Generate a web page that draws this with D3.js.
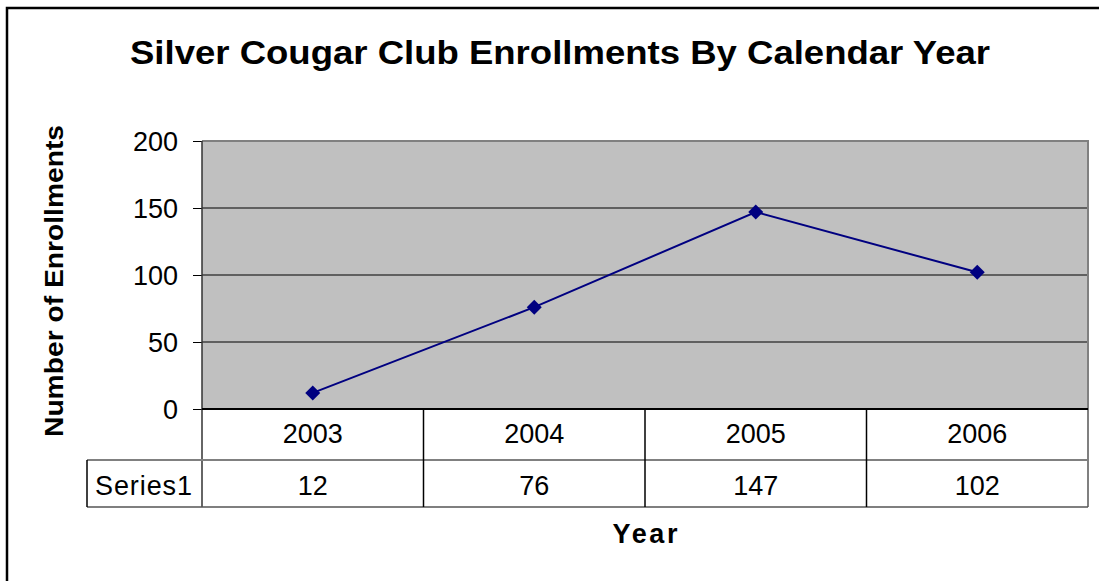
<!DOCTYPE html>
<html>
<head>
<meta charset="utf-8">
<script src="https://cdn.jsdelivr.net/npm/d3@7"></script>
<style>
  body { margin: 0; background: #fff; }
  svg text { font-family: "Liberation Sans", Arial, sans-serif; fill: #000; }
</style>
</head>
<body>
<div id="chart"></div>
<script>
const years = ['2003', '2004', '2005', '2006'];
const enrollments = [12, 76, 147, 102];
const seriesName = 'Series1';
const yTicks = [0, 50, 100, 150, 200];

const width = 1099;
const height = 581;

const plotLeft = 202;
const plotRight = 1088;
const plotTop = 141;
const plotBottom = 409;
const tableLeft = 87;
const rowMid = 460;
const tableBottom = 507;

const svg = d3.select('#chart')
	.append('svg')
	.attr('width', width)
	.attr('height', height);

// outer chart border (runs off the right and bottom of the picture)
svg.append('rect')
	.attr('x', 7)
	.attr('y', 8)
	.attr('width', width + 20)
	.attr('height', height + 20)
	.attr('fill', '#fff')
	.attr('stroke', '#000')
	.attr('stroke-width', 2.5);

svg.append('text')
	.attr('x', 560)
	.attr('y', 64)
	.attr('text-anchor', 'middle')
	.attr('textLength', 860)
	.attr('lengthAdjust', 'spacingAndGlyphs')
	.style('font-size', '32.5px')
	.style('font-weight', 'bold')
	.text('Silver Cougar Club Enrollments By Calendar Year');

const x = d3.scaleBand()
	.domain(years)
	.range([plotLeft, plotRight]);

const y = d3.scaleLinear()
	.domain([0, 200])
	.range([plotBottom, plotTop]);

svg.append('rect')
	.attr('x', plotLeft)
	.attr('y', plotTop)
	.attr('width', plotRight - plotLeft)
	.attr('height', plotBottom - plotTop)
	.attr('fill', '#c0c0c0');

// gridlines
svg.selectAll('.grid')
	.data(yTicks.filter((d) => d > 0 && d < 200))
	.join('line')
	.attr('class', 'grid')
	.attr('x1', plotLeft)
	.attr('x2', plotRight)
	.attr('y1', (d) => y(d))
	.attr('y2', (d) => y(d))
	.attr('stroke', '#000')
	.attr('stroke-width', 1);

// plot border top/right
svg.append('line')
	.attr('x1', plotLeft).attr('x2', plotRight)
	.attr('y1', plotTop).attr('y2', plotTop)
	.attr('stroke', '#808080').attr('stroke-width', 2);
svg.append('line')
	.attr('x1', plotRight).attr('x2', plotRight)
	.attr('y1', plotTop - 1).attr('y2', tableBottom)
	.attr('stroke', '#808080').attr('stroke-width', 2);

// y axis
const yAxis = svg.append('g')
	.attr('transform', `translate(${plotLeft},0)`)
	.call(d3.axisLeft(y).tickValues(yTicks).tickSize(9).tickPadding(15));
yAxis.select('.domain').remove();
yAxis.selectAll('.tick line').attr('stroke', '#000');
yAxis.selectAll('.tick text')
	.attr('fill', '#000')
	.attr('dy', '0.36em')
	.style('font-size', '27px')
	.style('font-family', '"Liberation Sans", Arial, sans-serif');

svg.append('line')
	.attr('x1', plotLeft).attr('x2', plotLeft)
	.attr('y1', plotTop).attr('y2', tableBottom)
	.attr('stroke', '#333').attr('stroke-width', 1.5);

// data table
svg.append('line')
	.attr('x1', plotLeft).attr('x2', plotRight)
	.attr('y1', plotBottom).attr('y2', plotBottom)
	.attr('stroke', '#000').attr('stroke-width', 2);
svg.append('line')
	.attr('x1', tableLeft).attr('x2', plotRight)
	.attr('y1', rowMid).attr('y2', rowMid)
	.attr('stroke', '#808080').attr('stroke-width', 2);
svg.append('line')
	.attr('x1', tableLeft).attr('x2', plotRight)
	.attr('y1', tableBottom).attr('y2', tableBottom)
	.attr('stroke', '#555').attr('stroke-width', 1.5);
svg.append('line')
	.attr('x1', tableLeft).attr('x2', tableLeft)
	.attr('y1', rowMid).attr('y2', tableBottom)
	.attr('stroke', '#000').attr('stroke-width', 1.5);

svg.selectAll('.col-div')
	.data(years.slice(1))
	.join('line')
	.attr('class', 'col-div')
	.attr('x1', (d) => x(d))
	.attr('x2', (d) => x(d))
	.attr('y1', plotBottom)
	.attr('y2', tableBottom)
	.attr('stroke', '#000')
	.attr('stroke-width', 1.5);

svg.selectAll('.cat-label')
	.data(years)
	.join('text')
	.attr('class', 'cat-label')
	.attr('x', (d) => x(d) + x.bandwidth() / 2)
	.attr('y', 443)
	.attr('text-anchor', 'middle')
	.style('font-size', '27px')
	.text((d) => d);

svg.selectAll('.val-label')
	.data(enrollments)
	.join('text')
	.attr('class', 'val-label')
	.attr('x', (d, i) => x(years[i]) + x.bandwidth() / 2)
	.attr('y', 495)
	.attr('text-anchor', 'middle')
	.style('font-size', '27px')
	.text((d) => d);

svg.append('text')
	.attr('x', 95)
	.attr('y', 495)
	.attr('textLength', 97)
	.attr('lengthAdjust', 'spacing')
	.style('font-size', '27px')
	.text(seriesName);

// series line + diamond markers
const line = d3.line()
	.x((d, i) => x(years[i]) + x.bandwidth() / 2)
	.y((d) => y(d));

svg.append('path')
	.datum(enrollments)
	.attr('d', line)
	.attr('fill', 'none')
	.attr('stroke', '#000080')
	.attr('stroke-width', 2);

svg.selectAll('.marker')
	.data(enrollments)
	.join('path')
	.attr('class', 'marker')
	.attr('d', d3.symbol(d3.symbolSquare, 112))
	.attr('transform', (d, i) => `translate(${x(years[i]) + x.bandwidth() / 2},${y(d)}) rotate(45)`)
	.attr('fill', '#000080');

// axis titles
svg.append('text')
	.attr('transform', 'translate(63,281) rotate(-90)')
	.attr('text-anchor', 'middle')
	.attr('textLength', 312)
	.attr('lengthAdjust', 'spacingAndGlyphs')
	.style('font-size', '26px')
	.style('font-weight', 'bold')
	.text('Number of Enrollments');

svg.append('text')
	.attr('x', 645)
	.attr('y', 543)
	.attr('text-anchor', 'middle')
	.attr('textLength', 65)
	.attr('lengthAdjust', 'spacing')
	.style('font-size', '27px')
	.style('font-weight', 'bold')
	.text('Year');
</script>
</body>
</html>
